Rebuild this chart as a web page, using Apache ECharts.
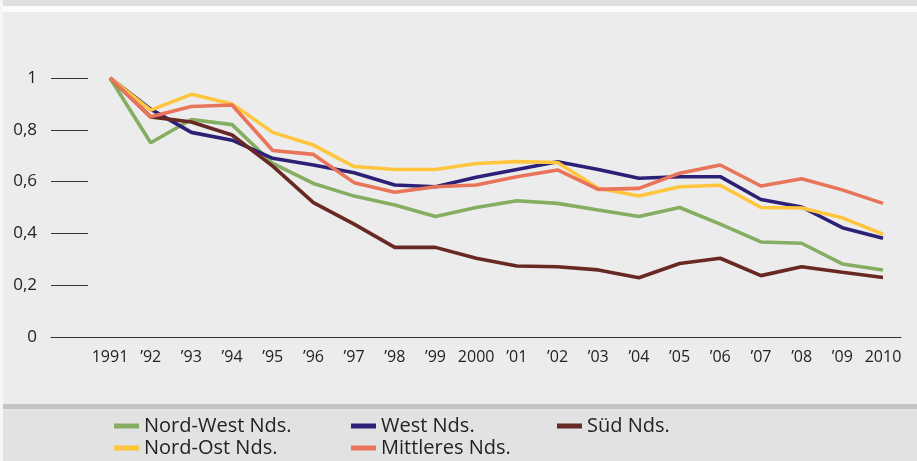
<!DOCTYPE html>
<html>
<head>
<meta charset="utf-8">
<script src="https://cdn.jsdelivr.net/npm/echarts@6/dist/echarts.min.js"></script>
<style>
  html, body { margin: 0; padding: 0; background: #fff; }
  #chart { width: 917px; height: 461px; }
</style>
</head>
<body>
<div id="chart"></div>
<script>
var years = ['1991', '’92', '’93', '’94', '’95', '’96', '’97', '’98', '’99', '2000',
  '’01', '’02', '’03', '’04', '’05', '’06', '’07', '’08', '’09', '2010'];

var nordWest = [1, 0.75, 0.84, 0.82, 0.67, 0.593, 0.544, 0.51, 0.465, 0.50,
  0.526, 0.516, 0.49, 0.465, 0.50, 0.436, 0.367, 0.362, 0.282, 0.259];
var west = [1, 0.88, 0.79, 0.76, 0.69, 0.664, 0.634, 0.587, 0.58, 0.617,
  0.647, 0.677, 0.647, 0.613, 0.619, 0.619, 0.531, 0.502, 0.422, 0.381];
var sued = [1, 0.85, 0.83, 0.78, 0.66, 0.519, 0.436, 0.346, 0.346, 0.304,
  0.274, 0.271, 0.259, 0.229, 0.284, 0.304, 0.237, 0.271, 0.25, 0.23];
var nordOst = [1, 0.876, 0.937, 0.90, 0.79, 0.741, 0.658, 0.647, 0.647, 0.67,
  0.677, 0.674, 0.574, 0.544, 0.58, 0.586, 0.50, 0.498, 0.46, 0.397];
var mittleres = [1, 0.85, 0.89, 0.896, 0.72, 0.705, 0.596, 0.559, 0.58, 0.587,
  0.619, 0.645, 0.57, 0.574, 0.632, 0.664, 0.583, 0.611, 0.568, 0.516];

var names = ['Nord-West Nds.', 'West Nds.', 'Süd Nds.', 'Nord-Ost Nds.', 'Mittleres Nds.'];
var colors = ['#85ae63', '#2d2177', '#682823', '#ffc53d', '#e8745a'];
var values = [nordWest, west, sued, nordOst, mittleres];

var chart = echarts.init(document.getElementById('chart'));

var legendPos = [
  {left: 114, top: 416}, {left: 351, top: 416}, {left: 557, top: 416},
  {left: 114, top: 438}, {left: 351, top: 438}
];

var option = {
  backgroundColor: '#ececec',
  animation: false,
  textStyle: { fontFamily: 'Open Sans' },
  graphic: [
    { type: 'rect', shape: { x: 0, y: 0, width: 917, height: 6 }, style: { fill: '#e0e0e0' }, z: -1 },
    { type: 'rect', shape: { x: 0, y: 6, width: 917, height: 6 }, style: { fill: '#fbfbfb' }, z: -1 },
    { type: 'rect', shape: { x: 0, y: 0, width: 3, height: 461 }, style: { fill: '#f6f6f6' }, z: -1 },
    { type: 'rect', shape: { x: 3, y: 404, width: 914, height: 5 }, style: { fill: '#c4c4c4' }, z: -1 },
    { type: 'rect', shape: { x: 3, y: 409, width: 914, height: 52 }, style: { fill: '#e2e2e2' }, z: -1 }
  ],
  legend: names.map(function (n, i) {
    return {
      data: [n],
      left: legendPos[i].left,
      top: legendPos[i].top,
      icon: 'rect',
      itemWidth: 25,
      itemHeight: 5,
      itemGap: 0,
      padding: 0,
      textStyle: { fontSize: 20, color: '#222', fontFamily: 'Open Sans' }
    };
  }),
  grid: [
    { left: 51, right: 16, top: 78, bottom: 124 },
    { left: 110, right: 34, top: 78, bottom: 124 }
  ],
  xAxis: [
    {
      gridIndex: 0, type: 'value', min: 0, max: 1,
      axisLine: { show: true, lineStyle: { color: '#333', width: 1.2 } },
      axisTick: { show: false }, axisLabel: { show: false }, splitLine: { show: false }
    },
    {
      gridIndex: 1, type: 'category', data: years, boundaryGap: false,
      axisLine: { show: false }, axisTick: { show: false },
      axisLabel: { interval: 0, hideOverlap: false, fontSize: 16, color: '#222', margin: 12 }
    }
  ],
  yAxis: [
    {
      gridIndex: 0, type: 'value', min: 0, max: 1, interval: 0.2,
      axisLine: { show: false },
      axisTick: { show: true, inside: true, length: 37, lineStyle: { color: '#333', width: 1.2 } },
      splitLine: { show: false },
      axisLabel: {
        fontSize: 17, color: '#222', margin: 14,
        formatter: function (v) { return String(Math.round(v * 10) / 10).replace('.', ','); }
      }
    },
    { gridIndex: 1, type: 'value', min: 0, max: 1, show: false }
  ],
  series: names.map(function (n, i) {
    return {
      name: n,
      type: 'line',
      xAxisIndex: 1,
      yAxisIndex: 1,
      data: values[i],
      symbol: 'none',
      lineStyle: { width: 3.6, color: colors[i] },
      itemStyle: { color: colors[i] }
    };
  })
};

chart.setOption(option);
</script>
</body>
</html>
